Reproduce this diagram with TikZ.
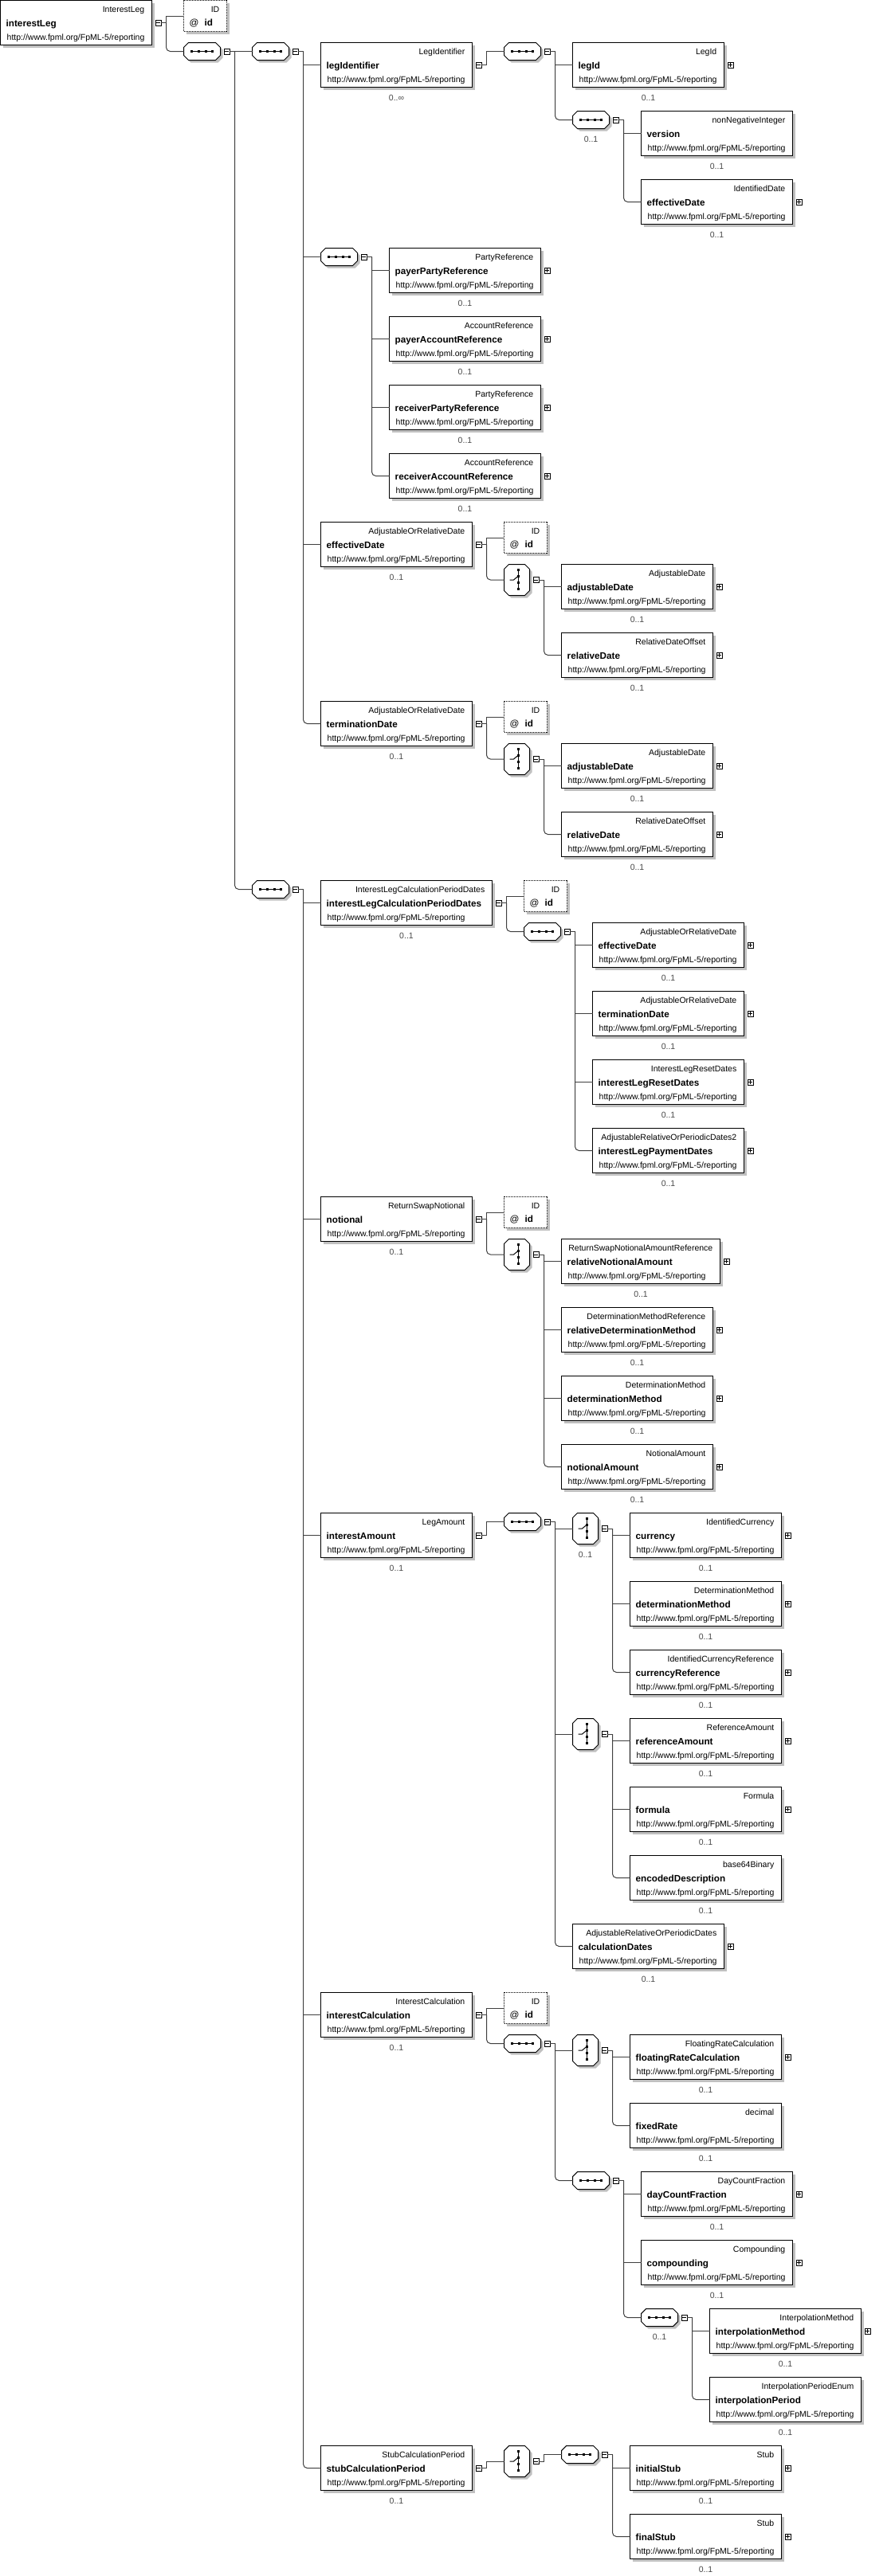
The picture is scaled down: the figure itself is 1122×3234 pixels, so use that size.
\documentclass[tikz,border=0pt]{standalone}
\usepackage{fontspec}
\setmainfont{Liberation Sans}
\usetikzlibrary{calc,shadows}
\definecolor{connc}{RGB}{64,64,64}
\definecolor{shadowc}{RGB}{192,192,192}
\definecolor{cardc}{RGB}{72,72,72}
\newcommand\tfont{\fontsize{10.5pt}{12pt}\selectfont}
\newcommand\nfont{\fontsize{11.7pt}{14pt}\selectfont\bfseries}
\newcommand\afont{\fontsize{11.7pt}{14pt}\selectfont}
\tikzset{
  conn/.style={draw=connc, line width=1pt},
  boxshadow/.style={general shadow={fill=shadowc, shadow xshift=3pt, shadow yshift=-3pt}},
  ebox/.style={rectangle, draw=black, fill=white, line width=1pt, minimum height=56pt, inner sep=0pt, outer sep=0pt, anchor=north west, boxshadow},
  abox/.style={rectangle, draw=black, dash pattern=on 1pt off 1pt, fill=white, line width=1pt, minimum width=54pt, minimum height=39pt, inner sep=0pt, outer sep=0pt, anchor=north west, boxshadow},
  obox/.style={rectangle, draw=none, inner sep=0pt, outer sep=0pt, anchor=north west},
  pmbox/.style={rectangle, draw=black, fill=white, line width=1pt, minimum size=7pt, inner sep=0pt, outer sep=0pt},
  tlab/.style={anchor=base east, inner sep=0pt, font=\tfont},
  nlab/.style={anchor=base west, inner sep=0pt, font=\nfont},
  alab/.style={anchor=base west, inner sep=0pt, font=\afont},
  ulab/.style={anchor=base west, inner sep=0pt, font=\tfont},
  clab/.style={anchor=base, inner sep=0pt, font=\tfont, text=cardc},
  icon/.style={line width=1pt, draw=black}
}
% octagon path: node, cut, offset
\newcommand\octo[3]{($(#1.north west)+(#2+#3,#3)$) -- ($(#1.north east)+(-#2+#3,#3)$) -- ($(#1.north east)+(#3,#2+#3)$) -- ($(#1.south east)+(#3,-#2+#3)$) -- ($(#1.south east)+(-#2+#3,#3)$) -- ($(#1.south west)+(#2+#3,#3)$) -- ($(#1.south west)+(#3,-#2+#3)$) -- ($(#1.north west)+(#3,#2+#3)$) -- cycle}
% element box: name, x, y, width, type, label
\newcommand\el[6]{%
  \node[ebox, minimum width=#4pt] (#1) at (#2,#3) {};
  \node[tlab] (#1-t) at ($(#1.north east)+(-9,14.5)$) {#5};
  \node[nlab] (#1-n) at ($(#1.north west)+(7,33)$) {#6};
  \node[ulab] (#1-u) at ($(#1.north west)+(8,50)$) {http://www.fpml.org/FpML-5/reporting};
}
\newcommand\attr[3]{%
  \node[abox] (#1) at (#2,#3) {};
  \node[tlab] (#1-t) at ($(#1.north east)+(-9,14.5)$) {ID};
  \node[alab] (#1-a) at ($(#1.north west)+(7,32)$) {@};
  \node[nlab] (#1-n) at ($(#1.north west)+(26,32)$) {id};
}
\newcommand\seqn[3]{%
  \node[obox, minimum width=46pt, minimum height=22pt] (#1) at (#2,#3) {};
  \fill[shadowc] \octo{#1}{6}{3};
  \filldraw[fill=white, icon] \octo{#1}{6}{0};
  \draw[icon] ($(#1.center)+(-14,0)$) -- ($(#1.center)+(14,0)$);
  \foreach \q in {-13,-4.5,4.5,13} {\fill ($(#1.center)+(\q-1.5,-1.5)$) rectangle ++(3,3);}
}
\newcommand\choicen[3]{%
  \node[obox, minimum width=32pt, minimum height=39pt] (#1) at (#2,#3) {};
  \fill[shadowc] \octo{#1}{6}{3};
  \filldraw[fill=white, icon] \octo{#1}{6}{0};
  \draw[icon] ($(#1.center)+(2,-13)$) -- ($(#1.center)+(2,11)$);
  \foreach \q in {-13,-5,3,11} {\fill ($(#1.center)+(0.5,\q-1.5)$) rectangle ++(3,3);}
  \draw[icon] ($(#1.center)+(-9,0)$) -- ($(#1.center)+(-4,0)$) -- ($(#1.center)+(2,-5)$);
}
\newcommand\mb[1]{%
  \node[pmbox] (#1-m) at ($(#1.east)+(8,0)$) {};
  \draw[icon] ($(#1-m.center)+(-2.5,0)$) -- ($(#1-m.center)+(2.5,0)$);
  \draw[conn] (#1-m.east) -- ++(6.5,0) coordinate (#1-b);
}
\newcommand\pb[1]{%
  \node[pmbox] (#1-p) at ($(#1.east)+(8,0)$) {};
  \draw[icon] ($(#1-p.center)+(-2.5,0)$) -- ($(#1-p.center)+(2.5,0)$);
  \draw[icon] ($(#1-p.center)+(0,-2.5)$) -- ($(#1-p.center)+(0,2.5)$);
}
\newcommand\card[2]{\node[clab] (#1-c) at ($(#1.south)+(0,17)$) {#2};}
\newcommand\br[2]{\draw[conn] (#1-b) |- (#2.west);}
\newcommand\brl[2]{\draw[conn, rounded corners=5pt] (#1-b) |- (#2.west);}
% element with plus and 0..1
\newcommand\elp[6]{\el{#1}{#2}{#3}{#4}{#5}{#6}\pb{#1}\card{#1}{0..1}}
\newcommand\elc[6]{\el{#1}{#2}{#3}{#4}{#5}{#6}\card{#1}{0..1}}
\begin{document}
\begin{tikzpicture}[x=1pt, y=-1pt]
\fill[white] (0,0) rectangle (1122,3234);
\useasboundingbox (0,0) rectangle (1122,3234);

% root
\el{IL}{0.5}{0.5}{190}{InterestLeg}{interestLeg}
\mb{IL}
\attr{A0}{230.5}{0.5}
\seqn{S1}{230.5}{53.5}
\br{IL}{A0} \brl{IL}{S1}
\mb{S1}
\seqn{S2}{316.5}{53.5}
\seqn{S6}{316.5}{1105.5}
\br{S1}{S2} \brl{S1}{S6}

% first sequence
\mb{S2}
\el{LI}{402.5}{53.5}{190}{LegIdentifier}{legIdentifier}\card{LI}{0..∞}
\seqn{S3}{402.5}{311.5}
\elc{ED}{402.5}{655.5}{190}{AdjustableOrRelativeDate}{effectiveDate}
\elc{TD}{402.5}{880.5}{190}{AdjustableOrRelativeDate}{terminationDate}
\br{S2}{LI} \br{S2}{S3} \br{S2}{ED} \brl{S2}{TD}

% legIdentifier
\mb{LI}
\seqn{S4}{632.5}{53.5}
\br{LI}{S4}
\mb{S4}
\elp{LID}{718.5}{53.5}{190}{LegId}{legId}
\seqn{S5}{718.5}{139.5}\card{S5}{0..1}
\br{S4}{LID} \brl{S4}{S5}
\mb{S5}
\elc{VER}{804.5}{139.5}{190}{nonNegativeInteger}{version}
\elp{EDI}{804.5}{225.5}{190}{IdentifiedDate}{effectiveDate}
\br{S5}{VER} \brl{S5}{EDI}

% parties
\mb{S3}
\elp{PPR}{488.5}{311.5}{190}{PartyReference}{payerPartyReference}
\elp{PAR}{488.5}{397.5}{190}{AccountReference}{payerAccountReference}
\elp{RPR}{488.5}{483.5}{190}{PartyReference}{receiverPartyReference}
\elp{RAR}{488.5}{569.5}{190}{AccountReference}{receiverAccountReference}
\br{S3}{PPR} \br{S3}{PAR} \br{S3}{RPR} \brl{S3}{RAR}

% effectiveDate
\mb{ED}
\attr{A1}{632.5}{655.5}
\choicen{C1}{632.5}{708.5}
\br{ED}{A1} \brl{ED}{C1}
\mb{C1}
\elp{AD1}{704.5}{708.5}{190}{AdjustableDate}{adjustableDate}
\elp{RD1}{704.5}{794.5}{190}{RelativeDateOffset}{relativeDate}
\br{C1}{AD1} \brl{C1}{RD1}

% terminationDate
\mb{TD}
\attr{A2}{632.5}{880.5}
\choicen{C2}{632.5}{933.5}
\br{TD}{A2} \brl{TD}{C2}
\mb{C2}
\elp{AD2}{704.5}{933.5}{190}{AdjustableDate}{adjustableDate}
\elp{RD2}{704.5}{1019.5}{190}{RelativeDateOffset}{relativeDate}
\br{C2}{AD2} \brl{C2}{RD2}

% second sequence
\mb{S6}
\elc{ILC}{402.5}{1105.5}{215}{InterestLegCalculationPeriodDates}{interestLegCalculationPeriodDates}
\elc{NOT}{402.5}{1502.5}{190}{ReturnSwapNotional}{notional}
\elc{IA}{402.5}{1899.5}{190}{LegAmount}{interestAmount}
\elc{IC}{402.5}{2501.5}{190}{InterestCalculation}{interestCalculation}
\elc{STB}{402.5}{3070.5}{190}{StubCalculationPeriod}{stubCalculationPeriod}
\br{S6}{ILC} \br{S6}{NOT} \br{S6}{IA} \br{S6}{IC} \brl{S6}{STB}

% interestLegCalculationPeriodDates
\mb{ILC}
\attr{A3}{657.5}{1105.5}
\seqn{S7}{657.5}{1158.5}
\br{ILC}{A3} \brl{ILC}{S7}
\mb{S7}
\elp{ED2}{743.5}{1158.5}{190}{AdjustableOrRelativeDate}{effectiveDate}
\elp{TD2}{743.5}{1244.5}{190}{AdjustableOrRelativeDate}{terminationDate}
\elp{ILRD}{743.5}{1330.5}{190}{InterestLegResetDates}{interestLegResetDates}
\elp{ILPD}{743.5}{1416.5}{190}{AdjustableRelativeOrPeriodicDates2}{interestLegPaymentDates}
\br{S7}{ED2} \br{S7}{TD2} \br{S7}{ILRD} \brl{S7}{ILPD}

% notional
\mb{NOT}
\attr{A4}{632.5}{1502.5}
\choicen{C3}{632.5}{1555.5}
\br{NOT}{A4} \brl{NOT}{C3}
\mb{C3}
\elp{RNA}{704.5}{1555.5}{199}{ReturnSwapNotionalAmountReference}{relativeNotionalAmount}
\elp{RDM}{704.5}{1641.5}{190}{DeterminationMethodReference}{relativeDeterminationMethod}
\elp{DM}{704.5}{1727.5}{190}{DeterminationMethod}{determinationMethod}
\elp{NA}{704.5}{1813.5}{190}{NotionalAmount}{notionalAmount}
\br{C3}{RNA} \br{C3}{RDM} \br{C3}{DM} \brl{C3}{NA}

% interestAmount
\mb{IA}
\seqn{S8}{632.5}{1899.5}
\br{IA}{S8}
\mb{S8}
\choicen{C4}{718.5}{1899.5}\card{C4}{0..1}
\choicen{C5}{718.5}{2157.5}
\elp{CD}{718.5}{2415.5}{190}{AdjustableRelativeOrPeriodicDates}{calculationDates}
\br{S8}{C4} \br{S8}{C5} \brl{S8}{CD}
\mb{C4}
\elp{CUR}{790.5}{1899.5}{190}{IdentifiedCurrency}{currency}
\elp{DM2}{790.5}{1985.5}{190}{DeterminationMethod}{determinationMethod}
\elp{CURR}{790.5}{2071.5}{190}{IdentifiedCurrencyReference}{currencyReference}
\br{C4}{CUR} \br{C4}{DM2} \brl{C4}{CURR}
\mb{C5}
\elp{REFA}{790.5}{2157.5}{190}{ReferenceAmount}{referenceAmount}
\elp{FORM}{790.5}{2243.5}{190}{Formula}{formula}
\elc{ENC}{790.5}{2329.5}{190}{base64Binary}{encodedDescription}
\br{C5}{REFA} \br{C5}{FORM} \brl{C5}{ENC}

% interestCalculation
\mb{IC}
\attr{A5}{632.5}{2501.5}
\seqn{S9}{632.5}{2554.5}
\br{IC}{A5} \brl{IC}{S9}
\mb{S9}
\choicen{C6}{718.5}{2554.5}
\seqn{S10}{718.5}{2726.5}
\br{S9}{C6} \brl{S9}{S10}
\mb{C6}
\elp{FRC}{790.5}{2554.5}{190}{FloatingRateCalculation}{floatingRateCalculation}
\elc{FR}{790.5}{2640.5}{190}{decimal}{fixedRate}
\br{C6}{FRC} \brl{C6}{FR}
\mb{S10}
\elp{DCF}{804.5}{2726.5}{190}{DayCountFraction}{dayCountFraction}
\elp{COMP}{804.5}{2812.5}{190}{Compounding}{compounding}
\seqn{S11}{804.5}{2898.5}\card{S11}{0..1}
\br{S10}{DCF} \br{S10}{COMP} \brl{S10}{S11}
\mb{S11}
\elp{IM}{890.5}{2898.5}{190}{InterpolationMethod}{interpolationMethod}
\elc{IP}{890.5}{2984.5}{190}{InterpolationPeriodEnum}{interpolationPeriod}
\br{S11}{IM} \brl{S11}{IP}

% stubCalculationPeriod
\mb{STB}
\choicen{C7}{632.5}{3070.5}
\br{STB}{C7}
\mb{C7}
\seqn{S12}{704.5}{3070.5}
\br{C7}{S12}
\mb{S12}
\elp{INS}{790.5}{3070.5}{190}{Stub}{initialStub}
\elp{FIN}{790.5}{3156.5}{190}{Stub}{finalStub}
\br{S12}{INS} \brl{S12}{FIN}
\end{tikzpicture}
\end{document}
